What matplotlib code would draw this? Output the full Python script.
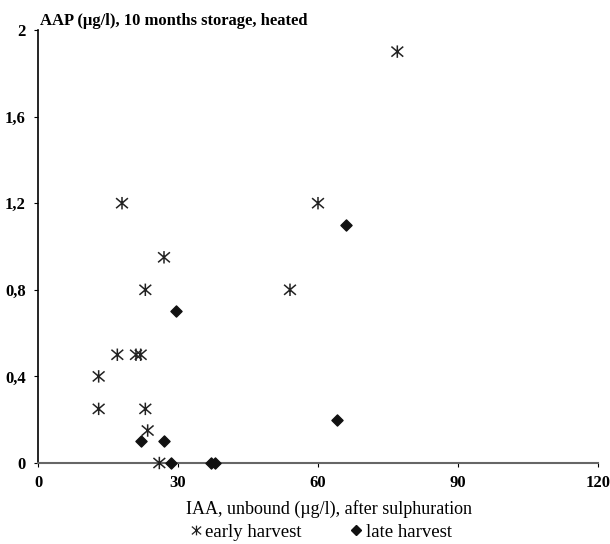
import matplotlib
matplotlib.use("Agg")
import matplotlib.pyplot as plt
from matplotlib.lines import Line2D
from matplotlib.path import Path
import numpy as np

plt.rcParams['font.family'] = ['Liberation Serif', 'DejaVu Serif']

early_x = [77, 18, 60, 27, 23, 54, 17, 21, 22, 13, 13, 23, 23.5, 26]
early_y = [1.9, 1.2, 1.2, 0.95, 0.8, 0.8, 0.5, 0.5, 0.5, 0.4, 0.25, 0.25, 0.15, 0]
late_x = [66, 29.5, 64, 22, 27, 28.5, 37, 38]
late_y = [1.1, 0.7, 0.2, 0.1, 0.1, 0, 0, 0]

x_ticks = [0, 30, 60, 90, 120]
y_ticks = [0, 0.4, 0.8, 1.2, 1.6, 2]
y_tick_labels = ['0', '0,4', '0,8', '1,2', '1,6', '2']

# asterisk: vertical stroke plus an X
d = 1.0
ast = Path([(0, -1.05), (0, 1.05), (-d, -d * 0.85), (d, d * 0.85), (-d, d * 0.85), (d, -d * 0.85)],
           [Path.MOVETO, Path.LINETO, Path.MOVETO, Path.LINETO, Path.MOVETO, Path.LINETO])

fig = plt.figure(figsize=(6.1, 5.44), dpi=100)
ax = fig.add_axes([0.0623, 0.1489, 0.918, 0.796])

ax.scatter(early_x, early_y, marker=ast, s=80, facecolor='none', edgecolor='#222222',
           linewidths=1.1, clip_on=False, zorder=3)
ax.scatter(late_x, late_y, marker='D', s=32, color='#111111', clip_on=False, zorder=3)

ax.set_xlim(0, 120)
ax.set_ylim(0, 2)
ax.set_xticks(x_ticks)
ax.set_xticklabels([str(t) for t in x_ticks])
ax.set_yticks(y_ticks)
ax.set_yticklabels(y_tick_labels)

for s in ['top', 'right']:
    ax.spines[s].set_visible(False)
ax.spines['left'].set_color('black')
ax.spines['left'].set_linewidth(1.2)
ax.spines['bottom'].set_color('#666666')
ax.spines['bottom'].set_linewidth(1.5)
ax.tick_params(axis='both', length=3, width=0.8, labelsize=12, pad=6)
for lbl in ax.get_xticklabels() + ax.get_yticklabels():
    lbl.set_fontweight('bold')

fig.text(0.066, 0.962, 'AAP (µg/l), 10 months storage, heated', fontsize=12,
         fontweight='bold', ha='left', va='center')
ax.set_xlabel('IAA, unbound (µg/l), after sulphuration', fontsize=13, labelpad=8)
ax.xaxis.set_label_coords(0.52, -0.085)

handles = [Line2D([], [], marker=ast, linestyle='none', color='#222222', markerfacecolor='none',
                  markersize=7, markeredgewidth=0.9),
           Line2D([], [], marker='D', linestyle='none', color='#111111', markersize=5)]
fig.legend(handles, ['early harvest', 'late harvest'], loc='center', ncol=2,
           bbox_to_anchor=(0.523, 0.022), frameon=False, fontsize=13.5,
           handletextpad=0.0, columnspacing=2.4, handlelength=1.0)

fig.savefig('out.png', dpi=100)
